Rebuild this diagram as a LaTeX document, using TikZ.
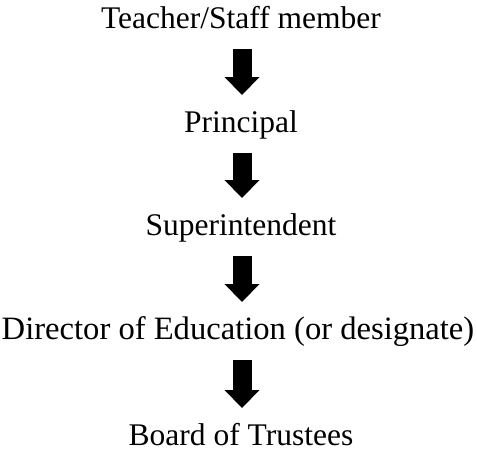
\documentclass[tikz,border=0pt]{standalone}
\usepackage{fontspec}
\setmainfont{Liberation Serif}
\usetikzlibrary{arrows.meta}

\begin{document}
\begin{tikzpicture}[x=1pt, y=1pt,
    stage/.style={anchor=base, inner sep=0pt, font=\fontsize{31.5}{38}\selectfont},
    downarrow/.style={line width=19pt, -{Triangle[width=35pt, length=18pt, line width=0pt]}}]
        \useasboundingbox (0,0) rectangle (477,-453);
        \node[stage] (teacher) at (241,-28) {Teacher/Staff member};
        \node[stage] (principal) at (241,-132) {Principal};
        \node[stage] (super) at (241,-235) {Superintendent};
        \node[stage, font=\fontsize{32.6}{38}\selectfont] (director) at (238,-339) {Director of Education (or designate)};
        \node[stage] (board) at (241,-445) {Board of Trustees};
        \draw[downarrow] ([xshift=1pt, yshift=-21pt]teacher.base) -- ([xshift=1pt, yshift=37pt]principal.base);
        \draw[downarrow] ([xshift=1pt, yshift=-21pt]principal.base) -- ([xshift=1pt, yshift=37pt]super.base);
        \draw[downarrow] ([xshift=1pt, yshift=-21pt]super.base) -- ([xshift=4pt, yshift=37pt]director.base);
        \draw[downarrow] ([xshift=4pt, yshift=-21pt]director.base) -- ([xshift=1pt, yshift=37pt]board.base);
    \end{tikzpicture}
\end{document}
